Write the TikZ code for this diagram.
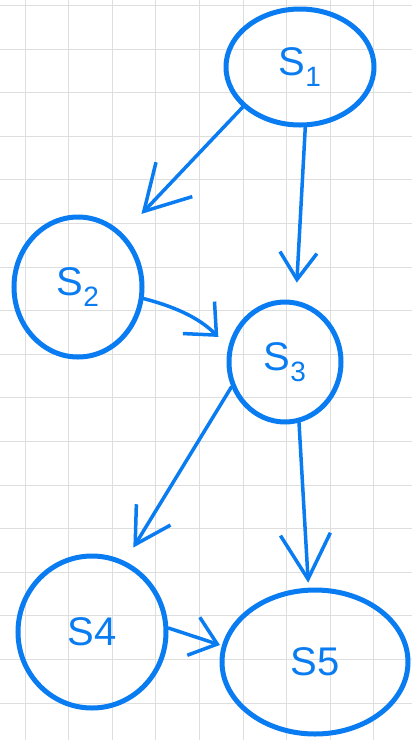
\documentclass[tikz,border=0pt]{standalone}
\usepackage{fontspec}
\setmainfont{Liberation Sans}
\usetikzlibrary{shapes.geometric,arrows.meta}
\definecolor{ink}{HTML}{0A7CF2}
\begin{document}
\begin{tikzpicture}[x=1pt,y=-1pt,
  st/.style={ellipse,draw=ink,line width=5pt,inner sep=0pt,text=ink,font=\fontsize{40}{40}\selectfont},
  arr/.style={draw=ink,line width=3.5pt,line cap=round,-{Straight Barb[length=32pt,width=44pt,line width=3.5pt]}},
  gridline/.style={draw=black!13,line width=1pt}]
\useasboundingbox (0,0) rectangle (412,740);
\fill[white] (0,0) rectangle (412,740);
\foreach \i in {0,...,16} \draw[gridline] (0,5.4+43.6*\i) -- (412,5.4+43.6*\i);
\foreach \i in {0,...,8} \draw[gridline] (25+43.6*\i,0) -- (25+43.6*\i,740);
\node[st,minimum width=148pt,minimum height=116pt] (s1) at (300,67) {S\textsubscript{1}};
\node[st,minimum width=128pt,minimum height=140pt] (s2) at (78,287) {S\textsubscript{2}};
\node[st,minimum width=112pt,minimum height=120pt] (s3) at (285,362) {S\textsubscript{3}};
\node[st,minimum width=148pt,minimum height=152pt] (s4) at (92,632) {S4};
\node[st,minimum width=186pt,minimum height=144pt] (s5) at (315,662) {S5};
\draw[arr,-{Straight Barb[length=44pt,width=50pt,line width=3.5pt]},shorten >=27pt] (s1.215) -- (s2.50);
\draw[arr,-{Straight Barb[length=27pt,width=37pt,line width=3.5pt]},shorten >=18pt] (s1.275) -- (s3.80);
\draw[arr,-{Straight Barb[length=25pt,width=45pt,line width=3.5pt]},shorten >=14pt] (s2.350) to[bend left=15] (s3.165);
\draw[arr,-{Straight Barb[length=35pt,width=40pt,line width=3.5pt]},shorten >=16pt] (s3.205) -- (s4.65);
\draw[arr,-{Straight Barb[length=45pt,width=50pt,line width=3.5pt]},shorten >=5pt] (s3.283) -- (s5.95);
\draw[arr,-{Straight Barb[length=25pt,width=40pt,line width=3.5pt]},shorten >=2pt] (s4.3) -- (s5.170);
\end{tikzpicture}
\end{document}
